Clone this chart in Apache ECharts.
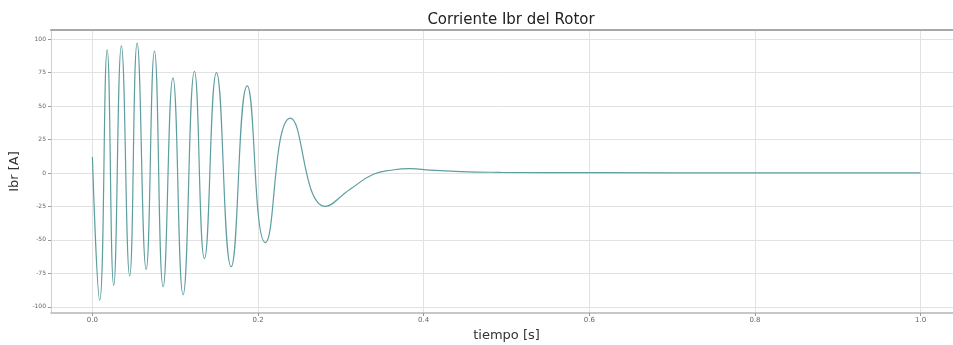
<!DOCTYPE html>
<html>
<head>
<meta charset="utf-8">
<script src="https://cdn.jsdelivr.net/npm/echarts@6/dist/echarts.min.js"></script>
<style>
html,body{margin:0;padding:0;background:#fff;}
#chart{width:953px;height:345px;}
</style>
</head>
<body>
<div id="chart"></div>
<script>
// time [s] and Ibr [A] (start, extrema, tail)
const tiempo = [0, 0.0088, 0.0178, 0.0257, 0.035, 0.045, 0.054,
  0.0649, 0.0749, 0.0854, 0.0972, 0.1095, 0.1232,
  0.1353, 0.1498, 0.1675, 0.1869, 0.2089, 0.2391,
  0.2814, 0.3116, 0.3393, 0.3620, 0.3840, 0.4080, 0.4444, 0.4930, 0.6135, 0.80, 1.0];
const ibr = [12, -95, 92, -84, 95, -77, 97,
  -72, 91, -85, 71, -91, 76,
  -64, 75, -70, 65, -52, 41,
  -25, -12, -1, 2.2, 3.2, 2.2, 1.0, 0.5, 0.2, 0.1, 0];
const xTicks = [0, 0.2, 0.4, 0.6, 0.8, 1.0];
const yTicks = [-100, -75, -50, -25, 0, 25, 50, 75, 100];

const chart = echarts.init(document.getElementById('chart'), null, {renderer: 'canvas'});
const font = 'DejaVu Sans';
chart.setOption({
  animation: false,
  backgroundColor: '#ffffff',
  title: {
    text: 'Corriente Ibr del Rotor',
    left: 506, top: 8, textAlign: 'center',
    textStyle: {fontFamily: font, fontSize: 15, fontWeight: 'normal', color: '#222'}
  },
  grid: {left: 51, top: 30, width: 911, height: 283, show: false,
    containLabel: false, outerBoundsMode: 'none'},
  xAxis: [{
    type: 'value', min: -0.05, max: 1.05, position: 'bottom',
    name: 'tiempo [s]', nameLocation: 'middle', nameGap: 16,
    nameTextStyle: {fontFamily: font, fontSize: 13, color: '#333'},
    axisLine: {show: true, onZero: false, lineStyle: {color: '#b5b5b5', width: 1.5}},
    axisTick: {show: true, length: 3, lineStyle: {color: '#999'}, customValues: xTicks},
    axisLabel: {customValues: xTicks, fontFamily: font, fontSize: 7, color: '#666', margin: 4,
      formatter: v => v.toFixed(1)},
    splitLine: {show: true, lineStyle: {color: '#e2e2e2', width: 1}}
  }, {
    type: 'value', min: -0.05, max: 1.05, position: 'top',
    axisLine: {show: true, onZero: false, lineStyle: {color: '#a8a8a8', width: 2}},
    axisTick: {show: false}, axisLabel: {show: false}, splitLine: {show: false}
  }],
  yAxis: {
    type: 'value', min: -104.6, max: 106.8,
    name: 'Ibr [A]', nameLocation: 'middle', nameGap: 28, nameRotate: 90,
    nameTextStyle: {fontFamily: font, fontSize: 13, color: '#333'},
    axisLine: {show: true, onZero: false, lineStyle: {color: '#cfcfcf', width: 1}},
    axisTick: {show: true, length: 3, lineStyle: {color: '#999'}, customValues: yTicks},
    axisLabel: {customValues: yTicks, fontFamily: font, fontSize: 6, color: '#666', margin: 5,
      formatter: v => String(v)},
    splitLine: {show: true, lineStyle: {color: '#e2e2e2', width: 1}}
  },
  series: [{
    type: 'line',
    xAxisIndex: 0,
    data: tiempo.map((t, i) => [t, ibr[i]]),
    showSymbol: false,
    smooth: 0.5,
    lineStyle: {color: '#5f9ea0', width: 1.2},
    itemStyle: {color: '#5f9ea0'}
  }]
});
</script>
</body>
</html>
